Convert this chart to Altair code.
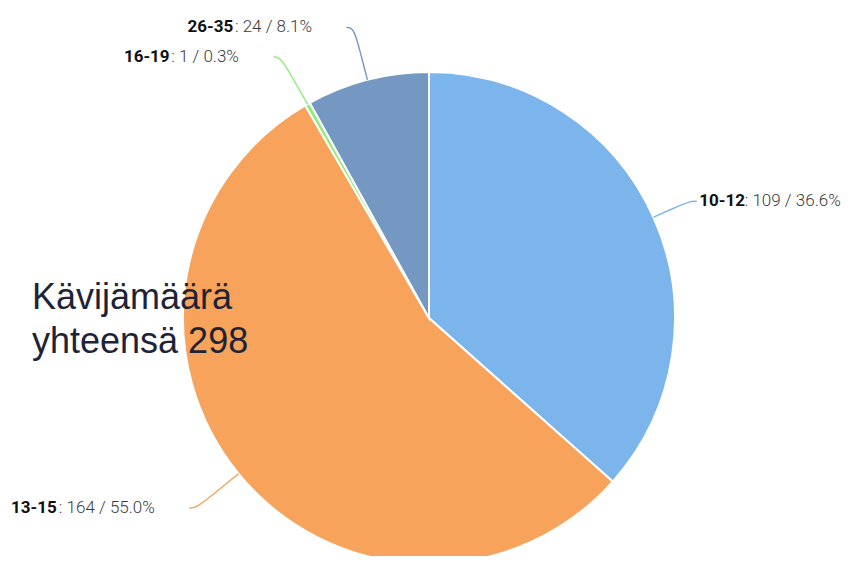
import math
import altair as alt
import pandas as pd

# ---- data ----
categories = ["10-12", "13-15", "16-19", "26-35"]
counts = [109, 164, 1, 24]
colors = ["#7cb5ec", "#f7a35c", "#90ed7d", "#7598c2"]
center_title = "Kävijämäärä\nyhteensä 298"

# ---- layout constants ----
W, H = 848, 548
CX, CY = 421, 310
R = 246
FS = 17

total = sum(counts)

# approximate Roboto advance widths (em)
CW = {":": 0.242, " ": 0.248, "/": 0.412, ".": 0.263, "%": 0.732, "-": 0.28}


def text_w(s, bold=False):
    w = sum(CW.get(c, 0.562) for c in s) * FS
    return w + (0.15 * FS if bold else 0)


slices = pd.DataFrame({"cat": categories, "count": counts, "idx": range(len(categories))})

line_rows = []
bold_rows = []
norm_rows = []
cum = 0
for i, (cat, n) in enumerate(zip(categories, counts)):
    a0 = cum / total * 2 * math.pi
    cum += n
    a1 = cum / total * 2 * math.pi
    mid = (a0 + a1) / 2
    ux, uy = math.sin(mid), math.cos(mid)
    right = ux > 0
    r_end = 1.16 if right else 1.22
    run = 0.03
    pts = [
        (ux, uy),
        (ux * (1 + (r_end - 1) / 2), uy * (1 + (r_end - 1) / 2)),
        (ux * r_end, uy * r_end),
        (ux * r_end + (run if right else -run), uy * r_end),
    ]
    for k, (px, py) in enumerate(pts):
        line_rows.append({"cat": cat, "o": k, "x": px, "y": py})
    ex, ey = pts[-1]
    bold = cat
    norm = f": {n} / {n / total * 100:.1f}%"
    if right:
        bx = ex + 0.01
        bold_rows.append({"cat": cat, "text": bold, "x": bx, "y": ey, "side": "L"})
        norm_rows.append({"cat": cat, "text": norm, "x": bx + text_w(bold, True) / R, "y": ey, "side": "L"})
    else:
        nx = ex - 0.14
        norm_rows.append({"cat": cat, "text": norm, "x": nx, "y": ey, "side": "R"})
        bold_rows.append({"cat": cat, "text": bold, "x": nx - text_w(norm) / R, "y": ey, "side": "R"})

lines = pd.DataFrame(line_rows)
bolds = pd.DataFrame(bold_rows)
norms = pd.DataFrame(norm_rows)

xs = alt.Scale(domain=[-CX / R, (W - CX) / R], nice=False, zero=False)
ys = alt.Scale(domain=[-(H - CY) / R, CY / R], nice=False, zero=False)
cscale = alt.Scale(domain=categories, range=colors)

pie = alt.Chart(slices).mark_arc(outerRadius=R, stroke="white", strokeWidth=2).encode(
    theta=alt.Theta("count:Q", stack=True),
    color=alt.Color("cat:N", scale=cscale, legend=None),
    order=alt.Order("idx:Q"),
    x=alt.value(CX),
    y=alt.value(CY),
)

leaders = alt.Chart(lines).mark_line(interpolate="basis", strokeWidth=1.4).encode(
    x=alt.X("x:Q", scale=xs, axis=None),
    y=alt.Y("y:Q", scale=ys, axis=None),
    color=alt.Color("cat:N", scale=cscale, legend=None),
    detail="cat:N",
    order="o:Q",
)


def txt(df, side, weight, color):
    return alt.Chart(df[df.side == side]).mark_text(
        align="left" if side == "L" else "right",
        baseline="middle",
        font="Roboto",
        fontSize=FS,
        fontWeight=weight,
        color=color,
    ).encode(
        x=alt.X("x:Q", scale=xs, axis=None),
        y=alt.Y("y:Q", scale=ys, axis=None),
        text="text:N",
    )


labels = [
    txt(bolds, "L", 700, "#111111"),
    txt(bolds, "R", 700, "#111111"),
    txt(norms, "L", 300, "#3a3a3a"),
    txt(norms, "R", 300, "#3a3a3a"),
]

title = alt.Chart(pd.DataFrame({"t": [center_title]})).mark_text(
    align="left",
    baseline="alphabetic",
    font="Liberation Sans",
    fontSize=36,
    lineHeight=44,
    lineBreak="\n",
    color="#1e2336",
).encode(text="t:N", x=alt.value(24), y=alt.value(301))

chart = alt.layer(pie, leaders, *labels, title).properties(
    width=W, height=H, padding=0, autosize=alt.AutoSizeParams(type="none")
).configure_view(stroke=None)

chart.save("out.html", embed_options={"renderer": "svg", "actions": False})
